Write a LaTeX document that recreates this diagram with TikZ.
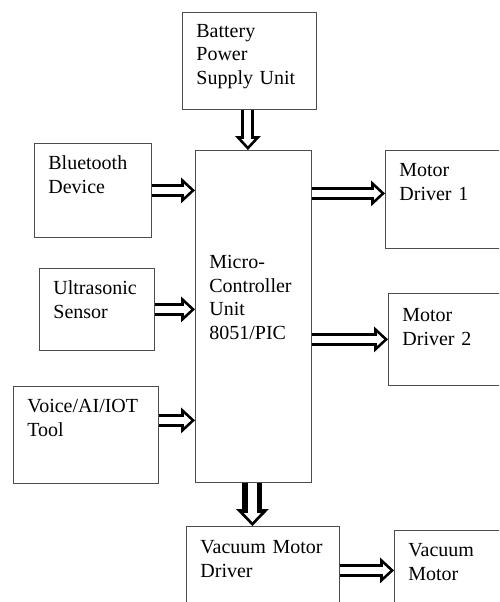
\documentclass[tikz,border=0pt]{standalone}
\usepackage{fontspec}
\setmainfont{Liberation Serif}
\usetikzlibrary{arrows.meta}
\tikzset{
    unitbox/.style={rectangle, draw=black!70, line width=0.8pt, fill=white, anchor=north west, inner xsep=14pt, inner ysep=12pt, align=left, font=\fontsize{20pt}{23.7pt}\selectfont},
    blockarrow/.style={draw=black, line width=13pt, -{Triangle[length=14pt, width=26pt, line width=0pt]},
        postaction={draw=white, line width=7pt, -{Triangle[length=7pt, width=13pt, line width=0pt]}, shorten >=4pt}},
    bigblockarrow/.style={draw=black, line width=20pt, -{Triangle[length=17pt, width=33pt, line width=0pt]},
        postaction={draw=white, line width=9pt, -{Triangle[length=9pt, width=17pt, line width=0pt]}, shorten >=4pt}}
}

\begin{document}
\begin{tikzpicture}[x=1pt, y=-1pt]
        \useasboundingbox (0,0) rectangle (499,602);
        \clip (0,0) rectangle (499,602);
        % blocks
        \node[unitbox, text width=106pt, text height=12.7pt, text depth=60.3pt] (bat) at (182,12) {Battery\\Power\\Supply Unit};
        \node[unitbox, text width=88pt, text height=106pt, text depth=202pt] (mcu) at (195,150) {Micro-\\Controller\\Unit\\8051/PIC};
        \node[unitbox, text width=89pt, text height=14pt, text depth=56pt] (bt) at (34,143) {Bluetooth\\Device};
        \node[unitbox, text width=87pt, text height=14pt, text depth=44pt] (us) at (39,268) {Ultrasonic\\Sensor};
        \node[unitbox, text width=117pt, text height=14pt, text depth=59pt] (voice) at (13,386) {Voice/AI/IOT\\Tool};
        \node[unitbox, text width=102pt, text height=14pt, text depth=60pt] (md1) at (385,150) {Motor\\Driver 1};
        \node[unitbox, text width=102pt, text height=16pt, text depth=52pt] (md2) at (388,293) {Motor\\Driver 2};
        \node[unitbox, text width=125pt, text height=15pt, text depth=61pt] (vmd) at (186,526) {Vacuum Motor\\Driver};
        \node[unitbox, text width=102pt, text height=14pt, text depth=62pt] (vm) at (394,530) {Vacuum\\Motor};
        % arrows
        \draw[blockarrow] ([xshift=-1.5pt]bat.south) -- ([xshift=-1.5pt]bat.south |- mcu.north);
        \draw[blockarrow] (bt.east) -- (bt.east -| mcu.west);
        \draw[blockarrow] (us.east) -- (us.east -| mcu.west);
        \draw[blockarrow] ([yshift=14.5pt]voice.east) -- ([yshift=14.5pt]voice.east -| mcu.west);
        \draw[blockarrow] ([yshift=6pt]md1.west -| mcu.east) -- ([yshift=6pt]md1.west);
        \draw[blockarrow] (md2.west -| mcu.east) -- (md2.west);
        \draw[bigblockarrow] ([xshift=-1pt]mcu.south) -- ([xshift=-1pt]mcu.south |- vmd.north);
        \draw[blockarrow] ([yshift=6pt]vmd.east) -- ([yshift=6pt]vmd.east -| vm.west);
\end{tikzpicture}
\end{document}
